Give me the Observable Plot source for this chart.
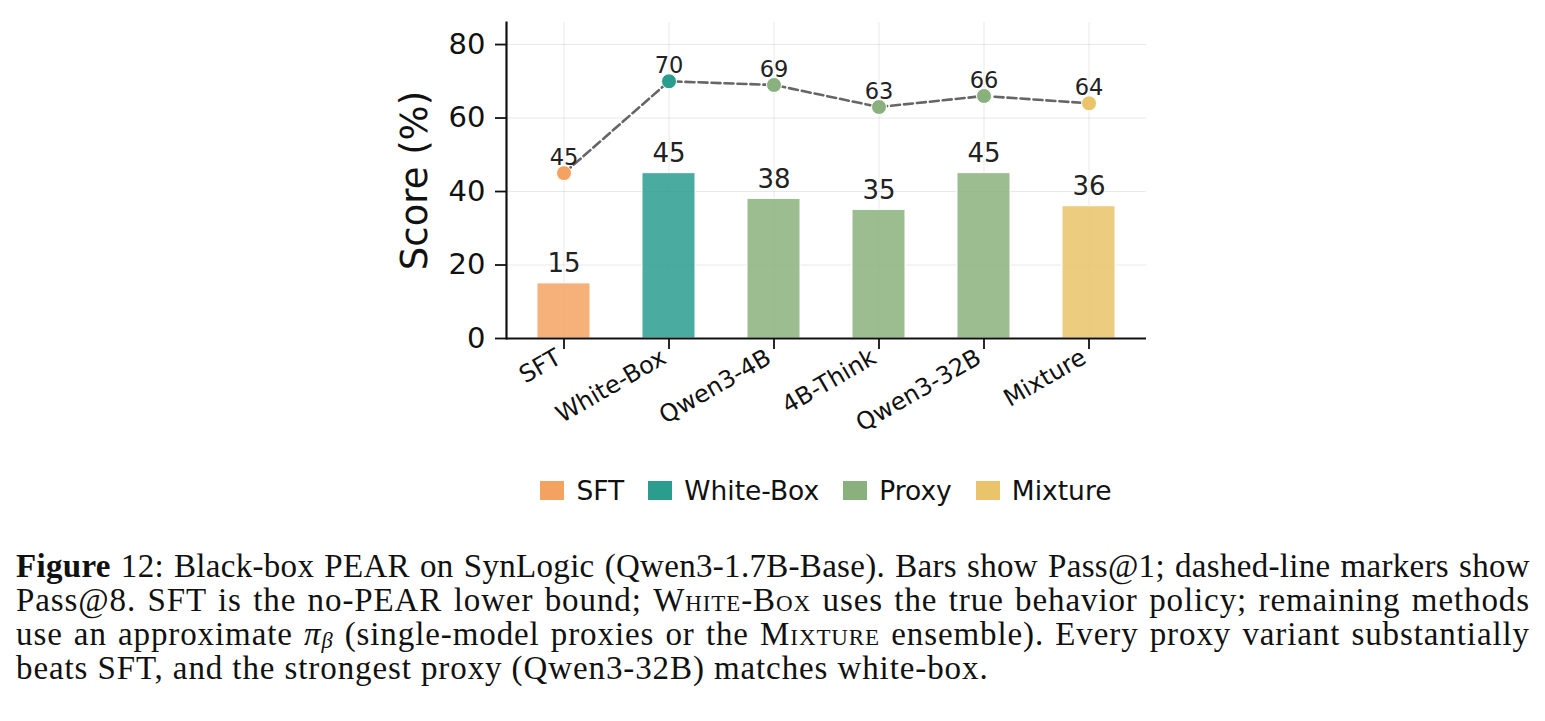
<!DOCTYPE html>
<html>
<head>
<meta charset="utf-8">
<script src="https://cdn.jsdelivr.net/npm/d3@7"></script>
<script src="https://cdn.jsdelivr.net/npm/@observablehq/plot@0.6"></script>
<style>
  html, body { margin: 0; padding: 0; background: #fff; }
  body { width: 1545px; height: 721px; overflow: hidden; position: relative; }
  #chart { position: absolute; left: 0; top: 0; }
  #legend {
    position: absolute; top: 475px; left: 506px; width: 640px;
    display: flex; justify-content: center; align-items: center;
    font-family: "DejaVu Sans", sans-serif; font-size: 26.5px; color: #111;
  }
  #legend .item { display: flex; align-items: center; margin: 0 12px; }
  #legend .sw { width: 24px; height: 19px; margin-right: 12px; }
  #caption {
    position: absolute; left: 16px; top: 549px; width: 1514px;
    font-family: "Liberation Serif", "Times New Roman", serif; font-size: 33px;
    letter-spacing: 0.9px; line-height: 34px; color: #111;
  }
  #caption .ln { height: 34px; text-align: justify; text-align-last: justify; white-space: nowrap; }
  #caption .ln.first { letter-spacing: 0.3px; }
  #caption .ln.last { text-align-last: left; }
  #caption .sc { font-variant: small-caps; }
  #caption sub { font-size: 0.68em; line-height: 0; position: relative; top: 0.12em; vertical-align: baseline; }
</style>
</head>
<body>
<div id="chart"></div>
<div id="legend"></div>
<div id="caption">
  <div class="ln first"><b>Figure</b> 12: Black-box PEAR on SynLogic (Qwen3-1.7B-Base). Bars show Pass@1; dashed-line markers show</div>
  <div class="ln">Pass@8. SFT is the no-PEAR lower bound; <span class="sc">White-Box</span> uses the true behavior policy; remaining methods</div>
  <div class="ln">use an approximate <i>π<sub>β</sub></i> (single-model proxies or the <span class="sc">Mixture</span> ensemble). Every proxy variant substantially</div>
  <div class="ln last">beats SFT, and the strongest proxy (Qwen3-32B) matches white-box.</div>
</div>
<script>
// Methods compared, with their group and scores (%)
const methods = ["SFT", "White-Box", "Qwen3-4B", "4B-Think", "Qwen3-32B", "Mixture"];
const methodGroup = ["SFT", "White-Box", "Proxy", "Proxy", "Proxy", "Mixture"];
const pass1 = [15, 45, 38, 35, 45, 36];
const pass8 = [45, 70, 69, 63, 66, 64];

// Legend groups and their colours
const groupNames = ["SFT", "White-Box", "Proxy", "Mixture"];
const groupColors = ["#F4A261", "#2A9D8F", "#8AB17D", "#E9C46A"];

const yTicks = [0, 20, 40, 60, 80];

const rows = methods.map((m, i) => ({method: m, group: methodGroup[i], p1: pass1[i], p8: pass8[i]}));

const font = "DejaVu Sans, sans-serif";

const chart = Plot.plot({
  width: 1545,
  height: 450,
  marginLeft: 506,
  marginRight: 399,
  marginTop: 22,
  marginBottom: 112,
  style: {fontFamily: font, background: "transparent", color: "#111", overflow: "visible"},
  x: {domain: methods, paddingInner: 0.5, paddingOuter: 0.28},
  y: {domain: [0, 86]},
  color: {domain: groupNames, range: groupColors},
  marks: [
    Plot.gridY(yTicks, {stroke: "#000", strokeOpacity: 0.09, strokeWidth: 1}),
    Plot.gridX(methods, {stroke: "#000", strokeOpacity: 0.09, strokeWidth: 1}),
    Plot.barY(rows, {x: "method", y: "p1", fill: "group", fillOpacity: 0.85, stroke: "#fff", strokeWidth: 1}),
    Plot.line(rows, {x: "method", y: "p8", stroke: "#555", strokeOpacity: 0.9, strokeWidth: 2.6, strokeDasharray: "9,4"}),
    Plot.dot(rows, {x: "method", y: "p8", fill: "group", r: 7.5, stroke: "#fff", strokeWidth: 1}),
    Plot.text(rows, {x: "method", y: "p1", text: d => String(d.p1), lineAnchor: "bottom", dy: -11, fontSize: 26, fill: "#222"}),
    Plot.text(rows, {x: "method", y: "p8", text: d => String(d.p8), lineAnchor: "bottom", dy: -8, fontSize: 22.5, fill: "#222"}),
    Plot.axisY({ticks: yTicks, tickSize: 11, tickPadding: 10, fontSize: 29, label: null, strokeWidth: 1.8}),
    // x tick marks, then the rotated method names
    Plot.axisX({tickSize: 11, tickFormat: () => "", label: null, strokeWidth: 1.8}),
    Plot.axisX({tickSize: 0, tickPadding: 15, tickRotate: -30, fontSize: 24, label: null, dx: -5, dy: 2}),
    Plot.text(["Score (%)"], {frameAnchor: "left", textAnchor: "middle", dx: -91, rotate: -90, fontSize: 37, fill: "#111"}),
    Plot.ruleY([0], {stroke: "#111", strokeWidth: 2.2}),
    Plot.frame({anchor: "left", stroke: "#111", strokeWidth: 2.2})
  ]
});
document.getElementById("chart").appendChild(chart);

// Legend swatches for the method groups
const legend = document.getElementById("legend");
groupNames.forEach((g, i) => {
  const item = document.createElement("div");
  item.className = "item";
  const sw = document.createElement("span");
  sw.className = "sw";
  sw.style.background = groupColors[i];
  const lab = document.createElement("span");
  lab.textContent = g;
  item.appendChild(sw);
  item.appendChild(lab);
  legend.appendChild(item);
});
</script>
</body>
</html>
